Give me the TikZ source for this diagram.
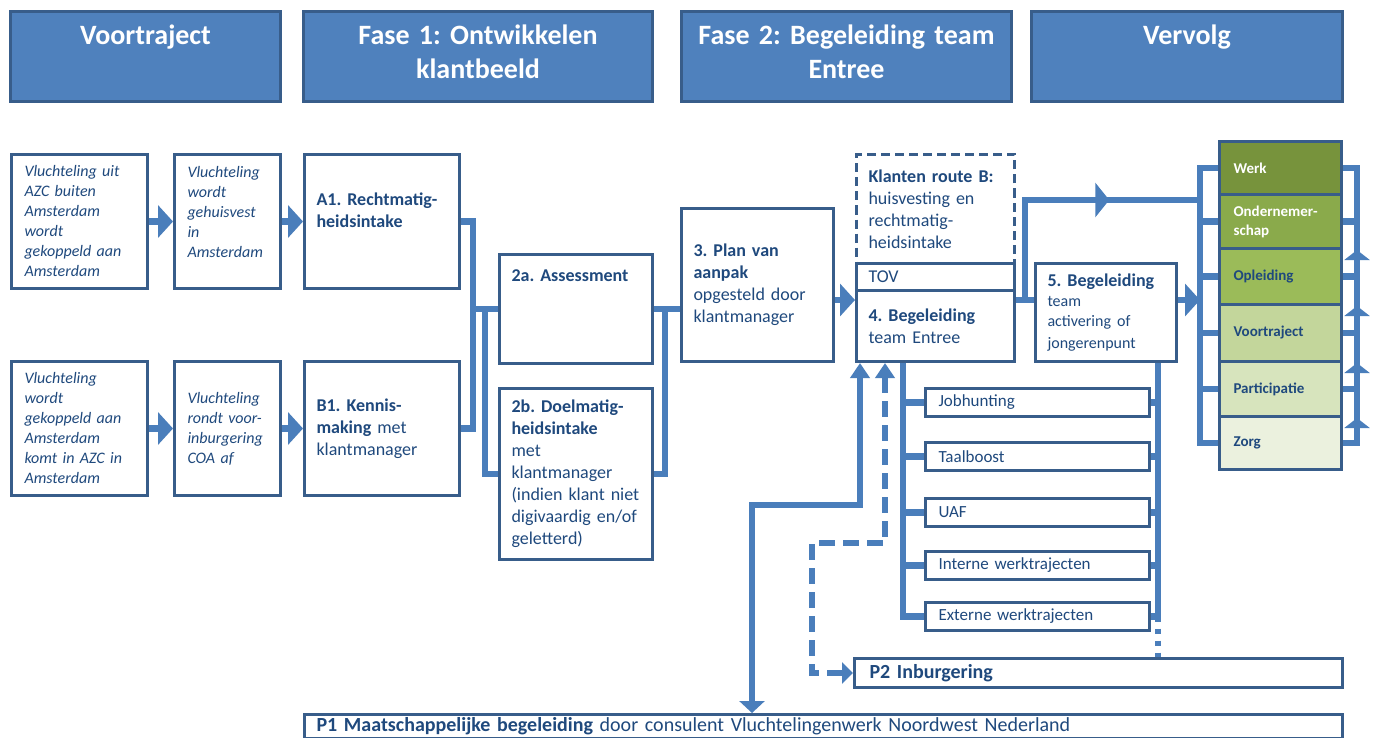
\documentclass[tikz,border=0pt]{standalone}
\usepackage{fontspec}
\setmainfont{Carlito}
\usetikzlibrary{arrows.meta,calc,decorations.markings}
\frenchspacing

\definecolor{phasefill}{HTML}{4F81BD}
\definecolor{boxline}{HTML}{385D8A}
\definecolor{flowblue}{HTML}{4A7EBB}
\definecolor{navy}{HTML}{1F497D}
\definecolor{werkgreen}{HTML}{77933C}
\definecolor{ondgreen}{HTML}{8AAA4B}
\definecolor{oplgreen}{HTML}{9BBB59}
\definecolor{voorgreen}{HTML}{C3D69B}
\definecolor{partgreen}{HTML}{D7E4BD}
\definecolor{zorggreen}{HTML}{EBF1DE}

\tikzset{
  phasebox/.style={draw=boxline, line width=3pt, fill=phasefill, anchor=north west,
    minimum height=90pt, inner xsep=4pt, inner ysep=0pt, align=center, text=white,
    text height=21pt, text depth=44pt, font=\bfseries\fontsize{28}{34}\selectfont},
  blockbox/.style={draw=boxline, line width=3pt, fill=white, anchor=north west,
    inner xsep=12pt, inner ysep=0pt, align=left, text=navy,
    font=\fontsize{18}{22}\selectfont},
  startbox/.style={blockbox, inner xsep=13pt, font=\itshape\fontsize{16}{20}\selectfont},
  trackbox/.style={blockbox, inner xsep=13pt, text width=198pt, minimum height=28pt,
    font=\fontsize{17}{20}\selectfont},
  nextbox/.style={blockbox, fill=#1, text width=94pt, inner xsep=14pt,
    font=\bfseries\fontsize{15}{19}\selectfont},
  flow/.style={draw=flowblue, line width=6.5pt},
  flowarrow/.style={flow, -{Triangle[width=32pt,length=15pt]}},
  uptip/.style={flow, -{Triangle[width=25pt,length=10pt]}},
}

\begin{document}
\begin{tikzpicture}[x=1pt, y=-1pt]
  \useasboundingbox (0,0) rectangle (1375,738);

  % phase headers
  \node[phasebox, text width=262pt] (hpre) at (9,10) {Voortraject\\\mbox{}};
  \node[phasebox, text width=341pt] (hfase1) at (302,10) {Fase 1: Ontwikkelen\\klantbeeld};
  \node[phasebox, text width=322pt] (hfase2) at (680,10) {Fase 2: Begeleiding team\\Entree};
  \node[phasebox, text width=303pt] (hvervolg) at (1030,10) {Vervolg\\\mbox{}};

  % voortraject, two routes
  \node[startbox, text width=110pt, minimum height=134pt] (vA) at (10,153)
    {Vluchteling uit\\AZC buiten\\Amsterdam\\wordt\\gekoppeld aan\\Amsterdam};
  \node[startbox, text width=80pt, minimum height=134pt] (vB) at (173,153)
    {Vluchteling\\wordt\\gehuisvest\\in\\Amsterdam\\\mbox{}};
  \node[startbox, text width=110pt, minimum height=134pt] (vC) at (10,360)
    {Vluchteling\\wordt\\gekoppeld aan\\Amsterdam\\komt in AZC in\\Amsterdam};
  \node[startbox, text width=80pt, minimum height=134pt] (vD) at (173,360)
    {Vluchteling\\rondt voor-\\inburgering\\COA af};

  % fase 1
  \node[blockbox, text width=131pt, minimum height=134pt] (a1) at (303,153)
    {\textbf{A1. Rechtmatig-}\\\textbf{heidsintake}\\\mbox{}};
  \node[blockbox, text width=131pt, minimum height=134pt] (b1) at (303,360)
    {\textbf{B1. Kennis-}\\\textbf{making} met\\klantmanager};
  \node[blockbox, text width=129pt, minimum height=109pt] (ass) at (498,253)
    {\textbf{2a. Assessment}\\\mbox{}\\\mbox{}\\\mbox{}};
  \node[blockbox, text width=129pt, minimum height=171pt] (doel) at (498,387)
    {\textbf{2b. Doelmatig-}\\\textbf{heidsintake}\\met\\klantmanager\\(indien klant niet\\digivaardig en/of\\geletterd)};
  \node[blockbox, text width=128pt, minimum height=153pt] (plan) at (680,207)
    {\textbf{3. Plan van}\\\textbf{aanpak}\\opgesteld door\\klantmanager};

  % fase 2
  \node[blockbox, dash pattern=on 9pt off 5pt, text width=134pt, minimum height=109pt] (route) at (855,153)
    {\textbf{Klanten route B:}\\huisvesting en\\rechtmatig-\\heidsintake};
  \node[blockbox, text width=134pt, minimum height=27pt] (tov) at (855,262) {TOV};
  \node[blockbox, text width=134pt, minimum height=71pt] (ent) at (855,289)
    {\textbf{4. Begeleiding}\\team Entree};
  \node[blockbox, text width=117pt, minimum height=98pt] (bg5) at (1034,262)
    {\textbf{5. Begeleiding}\\{\fontsize{16}{20}\selectfont team\\activering of\\jongerenpunt}};

  \node[trackbox] (job) at (924,387) {Jobhunting};
  \node[trackbox] (taal) at (924,441) {Taalboost};
  \node[trackbox] (uaf) at (924,497) {UAF};
  \node[trackbox] (intw) at (924,550) {Interne werktrajecten};
  \node[trackbox] (extw) at (924,601) {Externe werktrajecten};

  \node[blockbox, text width=458pt, inner xsep=15pt, minimum height=29pt,
    font=\bfseries\fontsize{20}{24}\selectfont] (p2) at (853,657) {P2 Inburgering};
  \node[blockbox, text width=1014pt, minimum height=24pt, font=\fontsize{20}{24}\selectfont] (p1) at (303,713)
    {\textbf{P1 Maatschappelijke begeleiding} door consulent Vluchtelingenwerk Noordwest Nederland};

  % vervolg
  \node[nextbox=werkgreen, text=white, minimum height=53pt] (werk) at (1218,140) {Werk};
  \node[nextbox=ondgreen, text=white, minimum height=54pt] (onder) at (1218,193) {Ondernemer-\\schap};
  \node[nextbox=oplgreen, minimum height=56pt] (opl) at (1218,247) {Opleiding};
  \node[nextbox=voorgreen, minimum height=57pt] (voor) at (1218,303) {Voortraject};
  \node[nextbox=partgreen, minimum height=55pt] (part) at (1218,360) {Participatie};
  \node[nextbox=zorggreen, minimum height=53pt] (zorg) at (1218,415) {Zorg};

  % bus lines and rows
  \coordinate (lbus) at (1200,0);
  \coordinate (rbus) at (1357,0);
  \coordinate (midrow) at (0,300);
  \coordinate (toprow) at (0,200);
  \coordinate (treeL) at (903,0);
  \coordinate (treeR) at (1158,0);
  \coordinate (p1bend) at (752,505);
  \coordinate (p2bend) at (812,543);

  % voortraject into fase 1
  \draw[flowarrow] (vA.east) -- (vB.west);
  \draw[flowarrow] (vB.east) -- (a1.west);
  \draw[flowarrow] (vC.east) -- (vD.west);
  \draw[flowarrow] (vD.east) -- (b1.west);

  % A1 and B1 join towards 2a and 2b
  \draw[flow] (a1.east) -- ++(12,0) |- (b1.east);
  \draw[flow] (ass.west) -- ++(-28,0);
  \draw[flow] ([xshift=-13pt]ass.west) |- (doel.west);
  \draw[flow] (ass.east) -- (ass.east -| plan.west);
  \draw[flow] ([xshift=11pt]ass.east) |- (doel.east);

  % plan into begeleiding
  \draw[flowarrow] (plan.east |- midrow) -- (ent.west |- midrow);
  \draw[flow] (ent.east |- midrow) -- (bg5.west |- midrow);
  \draw[flowarrow] (bg5.east |- midrow) -- (lbus |- midrow);
  \draw[flow, postaction={decorate}, decoration={markings,
      mark=at position 0.67 with {\arrow{Triangle[width=34pt,length=14pt]}}}]
    ($(ent.east |- midrow)+(9,0)$) |- (lbus |- toprow);

  % left and right bus along vervolg
  \draw[flow] (werk.west) -- (werk.west -| lbus) -- (zorg.west -| lbus) -- (zorg.west);
  \draw[flow] (werk.east) -- (werk.east -| rbus) -- (zorg.east -| rbus) -- (zorg.east);
  \foreach \n in {onder,opl,voor,part} {
    \draw[flow] (\n.west) -- (\n.west -| lbus);
    \draw[flow] (\n.east) -- (\n.east -| rbus);
    \draw[uptip] ($(\n.south -| rbus)+(0,20)$) -- (\n.south -| rbus);
  }

  % trajecten under team Entree
  \draw[flow] (ent.south -| treeL) |- (extw.west);
  \draw[flow] (bg5.south -| treeR) |- (extw.east);
  \foreach \n in {job,taal,uaf,intw} {
    \draw[flow] (\n.west) -- (\n.west -| treeL);
    \draw[flow] (\n.east) -- (\n.east -| treeR);
  }
  \draw[flow, dash pattern=on 5pt off 7pt] (extw.east -| treeR) -- (p2.north -| treeR);

  % P1 and P2 alongside team Entree
  \draw[flow, {Triangle[width=25pt,length=12pt]}-{Triangle[width=19pt,length=15pt]}]
    (p1.north -| p1bend) -- (p1bend) -| ($(ent.south west)+(5,0)$);
  \draw[flow, dash pattern=on 16pt off 8pt,
      {Triangle[width=19pt,length=15pt]}-{Triangle[width=21pt,length=11pt]}]
    ($(ent.south west)+(30,0)$) |- (p2bend) |- (p2.west);
\end{tikzpicture}
\end{document}
